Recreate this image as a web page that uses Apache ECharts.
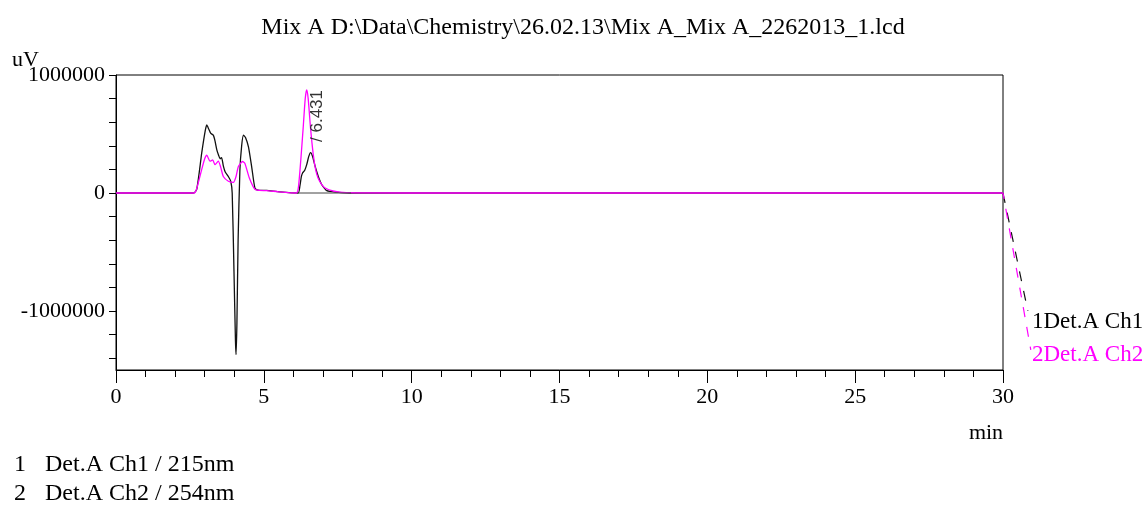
<!DOCTYPE html>
<html>
<head>
<meta charset="utf-8">
<script src="https://cdn.jsdelivr.net/npm/echarts@6/dist/echarts.min.js"></script>
<style>html,body{margin:0;padding:0;background:#fff;}#c{width:1147px;height:506px;}</style>
</head>
<body>
<div id="c"></div>
<script>
// ---- data (minutes, uV) ----
const ch1Time = [0, 2.62, 2.73, 2.9, 3.02, 3.07, 3.14, 3.2, 3.29, 3.35, 3.41, 3.47, 3.52, 3.57, 3.63, 3.69, 3.8, 3.88, 3.93, 3.99, 4.04, 4.06, 4.09, 4.13, 4.19, 4.25, 4.31, 4.38, 4.48, 4.59, 4.7, 4.8, 5.09, 5.54, 6.16, 6.22, 6.27, 6.31, 6.38, 6.45, 6.52, 6.58, 6.65, 6.72, 6.79, 6.87, 6.96, 7.13, 7.45, 8.02, 10, 15, 20, 25, 30];
const ch1Value = [0, 0, 30000, 340000, 530000, 577000, 540000, 507000, 490000, 440000, 366000, 320000, 290000, 300000, 230000, 180000, 140000, 100000, 0, -660000, -1250000, -1370000, -1100000, -400000, 190000, 400000, 490000, 470000, 390000, 220000, 40000, 25000, 22000, 10000, 0, 60000, 140000, 170000, 190000, 240000, 310000, 343000, 310000, 240000, 180000, 120000, 70000, 20000, 8000, 0, 0, 0, 0, 0, 0];
const ch2Time = [0, 2.64, 2.72, 2.9, 3.0, 3.07, 3.18, 3.27, 3.35, 3.46, 3.54, 3.63, 3.8, 3.97, 4.06, 4.14, 4.28, 4.36, 4.51, 4.7, 4.85, 5.1, 5.5, 6.1, 6.17, 6.25, 6.33, 6.40, 6.45, 6.50, 6.58, 6.67, 6.75, 6.83, 6.95, 7.06, 7.34, 7.79, 10, 15, 20, 25, 30];
const ch2Value = [0, 0, 30000, 200000, 290000, 320000, 270000, 280000, 240000, 270000, 220000, 140000, 100000, 90000, 140000, 225000, 267000, 250000, 127000, 30000, 22000, 20000, 10000, 0, 50000, 280000, 550000, 800000, 873000, 800000, 550000, 330000, 200000, 130000, 75000, 45000, 17000, 3000, 0, 0, 0, 0, 0];
const ch1TailTime = [30, 30.84];
const ch1TailValue = [0, -1000000];
const ch2TailTime = [30, 30.94];
const ch2TailValue = [0, -1330000];
const baselineTime = [6.15, 7.95];
const baselineValue = [0, 0];
const peakTime = 6.431;
const peakValue = 873000;
const peakLabel = '/ 6.431';
const xTicks = [0, 5, 10, 15, 20, 25, 30];
const yLabelValues = [-1000000, 0, 1000000];
const yTickValues = [-1400000, -1200000, -1000000, -800000, -600000, -400000, -200000, 0, 200000, 400000, 600000, 800000, 1000000];
const titleText = 'Mix A D:\\Data\\Chemistry\\26.02.13\\Mix A_Mix A_2262013_1.lcd';
const legendLines = [['1', 'Det.A Ch1 / 215nm'], ['2', 'Det.A Ch2 / 254nm']];
const endLabels = ['1Det.A Ch1', '2Det.A Ch2'];

const zip = (a, b) => a.map((t, i) => [t, b[i]]);
const SERIF = '"Liberation Serif", "Times New Roman", serif';
const BLACK = '#111';
const MAG = '#ff00ff';

// layout
const GL = 116, GR = 144, GT = 75, GB = 136, W = 1147;
const plotW = W - GL - GR;
const extraPx = 40; // hidden overflow grid for the post-run tails
const xMax = 30, yMin = -1500000, yMax = 1000000;
const xMax2 = xMax * (plotW + extraPx) / plotW;

const chart = echarts.init(document.getElementById('c'), null, {renderer: 'canvas'});
chart.setOption({
  animation: false,
  backgroundColor: '#fff',
  grid: [
    {left: GL, right: GR, top: GT, bottom: GB, show: true, borderColor: '#000', borderWidth: 1, backgroundColor: 'transparent'},
    {left: GL, right: GR - extraPx, top: GT, bottom: GB, show: false}
  ],
  xAxis: [{
    type: 'value', min: 0, max: xMax, interval: 5, gridIndex: 0,
    axisLine: {show: true, onZero: false, lineStyle: {color: '#000', width: 1}},
    axisTick: {show: true, length: 13, lineStyle: {color: '#000'}},
    minorTick: {show: true, splitNumber: 5, length: 7, lineStyle: {color: '#000'}},
    axisLabel: {color: '#000', fontFamily: SERIF, fontSize: 22, margin: 16, customValues: xTicks},
    splitLine: {show: false}
  }, {
    type: 'value', min: 0, max: xMax2, gridIndex: 1, show: false
  }],
  yAxis: [{
    type: 'value', min: yMin, max: yMax, gridIndex: 0,
    axisLine: {show: true, onZero: false, lineStyle: {color: '#000', width: 1}},
    axisTick: {show: true, length: 7, lineStyle: {color: '#000'}, customValues: yTickValues},
    axisLabel: {color: '#000', fontFamily: SERIF, fontSize: 22, margin: 11, customValues: yLabelValues,
      formatter: v => String(v)},
    splitLine: {show: false}
  }, {
    type: 'value', min: yMin, max: yMax, gridIndex: 1, show: false
  }],
  series: [
    {name: 'Det.A Ch1', type: 'line', data: zip(ch1Time, ch1Value), showSymbol: false, smooth: 0.2,
     lineStyle: {color: BLACK, width: 1.3}, z: 2},
    {name: 'Det.A Ch2', type: 'line', data: zip(ch2Time, ch2Value), showSymbol: false, smooth: 0.2,
     lineStyle: {color: MAG, width: 1.3}, z: 3,
     markPoint: {symbol: 'circle', symbolSize: 1, itemStyle: {color: 'rgba(0,0,0,0)'},
       data: [{coord: [peakTime, peakValue]}],
       label: {show: true, formatter: peakLabel, rotate: 90, position: 'inside', offset: [-26, 11],
         fontFamily: '"Liberation Sans", Arial, sans-serif', fontSize: 17, color: '#333'}}},
    {name: 'baseline', type: 'line', data: zip(baselineTime, baselineValue), showSymbol: false,
     lineStyle: {color: '#444', width: 1}, z: 4},
    {name: 'ch1 tail', type: 'line', xAxisIndex: 1, yAxisIndex: 1, data: zip(ch1TailTime, ch1TailValue), showSymbol: false, clip: false,
     lineStyle: {color: BLACK, width: 1.2, type: [10, 10]}, z: 2},
    {name: 'ch2 tail', type: 'line', xAxisIndex: 1, yAxisIndex: 1, data: zip(ch2TailTime, ch2TailValue), showSymbol: false, clip: false,
     lineStyle: {color: MAG, width: 1.2, type: [10, 10], dashOffset: 4}, z: 3}
  ],
  graphic: [
    {type: 'text', x: 583, y: 28, style: {text: titleText, font: '24px ' + SERIF, fill: '#000', align: 'center', verticalAlign: 'middle'}},
    {type: 'text', x: 12, y: 60, style: {text: 'uV', font: '22px ' + SERIF, fill: '#000', align: 'left', verticalAlign: 'middle'}, z: 10},
    {type: 'text', x: 986, y: 433, style: {text: 'min', font: '22px ' + SERIF, fill: '#000', align: 'center', verticalAlign: 'middle'}},
    {type: 'text', x: 1032, y: 322, style: {text: endLabels[0], font: '23px ' + SERIF, fill: '#000', align: 'left', verticalAlign: 'middle'}},
    {type: 'text', x: 1032, y: 355, style: {text: endLabels[1], font: '23px ' + SERIF, fill: MAG, align: 'left', verticalAlign: 'middle'}},
    {type: 'text', x: 14, y: 465, style: {text: legendLines[0][0], font: '24px ' + SERIF, fill: '#000', verticalAlign: 'middle'}},
    {type: 'text', x: 45, y: 465, style: {text: legendLines[0][1], font: '24px ' + SERIF, fill: '#000', verticalAlign: 'middle'}},
    {type: 'text', x: 14, y: 494, style: {text: legendLines[1][0], font: '24px ' + SERIF, fill: '#000', verticalAlign: 'middle'}},
    {type: 'text', x: 45, y: 494, style: {text: legendLines[1][1], font: '24px ' + SERIF, fill: '#000', verticalAlign: 'middle'}}
  ]
});
</script>
</body>
</html>
